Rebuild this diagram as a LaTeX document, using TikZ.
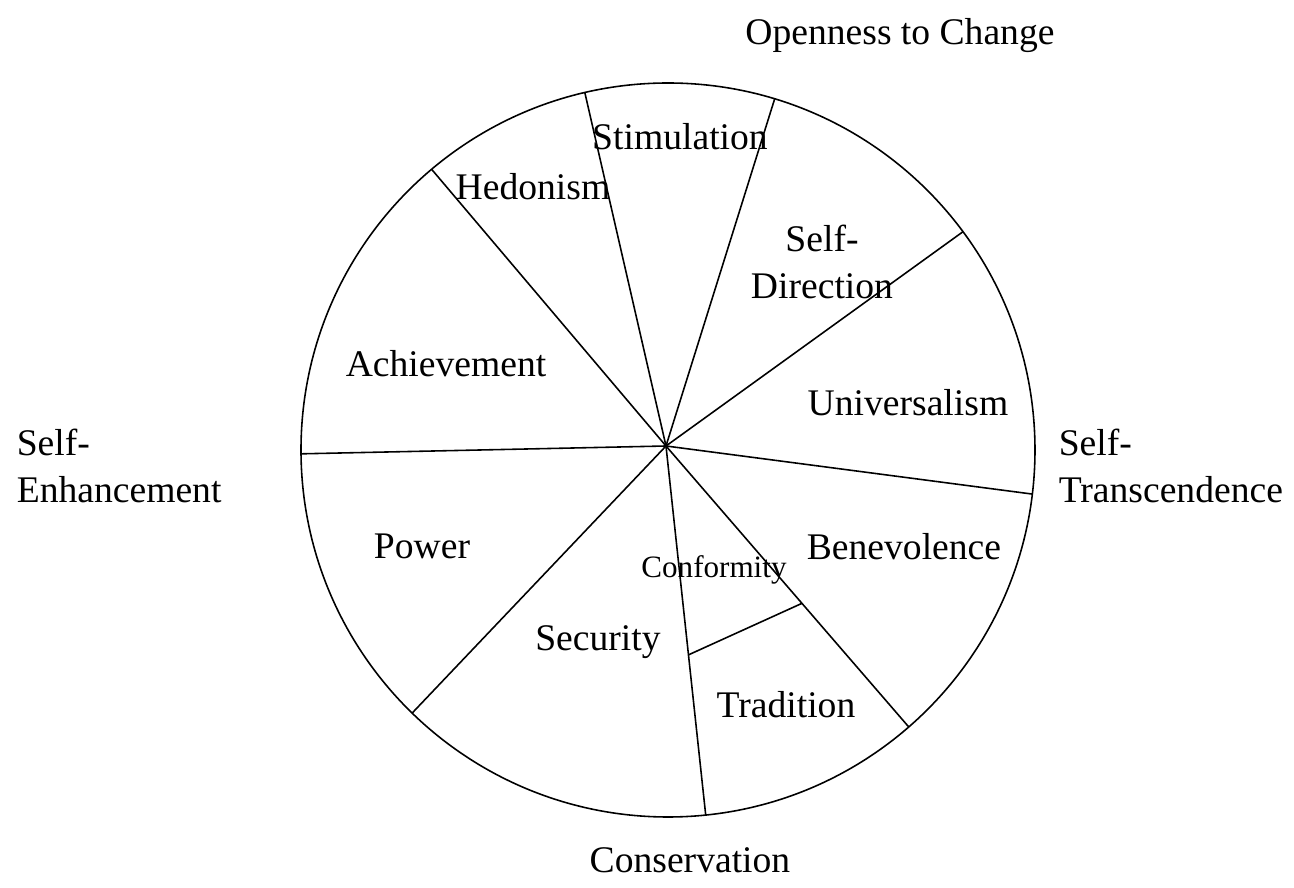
\documentclass[tikz,border=0pt]{standalone}
\usepackage{fontspec}
\setmainfont{Liberation Serif}
\usetikzlibrary{calc}
\tikzset{
  value/.style={inner sep=0pt,font=\fontsize{21.4}{27}\selectfont},
  group/.style={value,align=left,anchor=west}
}
\begin{document}
\begin{tikzpicture}[line width=0.9pt]
            \useasboundingbox (-13.36,-8.76) rectangle (12.52,9.0);
            \draw (0,0) circle (7.34);
            \coordinate (hub) at (-0.04,0.08);
            \foreach \a [count=\i] in {103.1,73.1,36.5,-6.9,-49,-84.1,-134.2,180.6,130.1}
                \draw (hub) -- (\a:7.34) coordinate (p\i);
            \draw ($(hub)!0.566!(p6)$) coordinate (c1) -- ($(hub)!0.56!(p5)$) coordinate (c2);
            \node[value] (stim) at (0.24,6.26) {Stimulation};
            \node[value] (hedo) at (-2.7,5.26) {Hedonism};
            \node[value,align=center] (sdir) at (3.08,3.76) {Self-\\Direction};
            \node[value] (achi) at (-4.44,1.72) {Achievement};
            \node[value] (univ) at (4.8,0.94) {Universalism};
            \node[value] (powr) at (-4.92,-1.92) {Power};
            \node[value] (bene) at (4.72,-1.94) {Benevolence};
            \node[value,font=\fontsize{17.7}{21}\selectfont] (conf) at (0.92,-2.4) {Conformity};
            \node[value] (secu) at (-1.4,-3.84) {Security};
            \node[value] (trad) at (2.36,-5.1) {Tradition};
            \node[value] (open) at (4.64,8.28) {Openness to Change};
            \node[value] (cons) at (0.44,-8.2) {Conservation};
            \node[group] (senh) at (-13.04,-0.32) {Self-\\Enhancement};
            \node[group] (strn) at (7.8,-0.32) {Self-\\Transcendence};
        \end{tikzpicture}
\end{document}
